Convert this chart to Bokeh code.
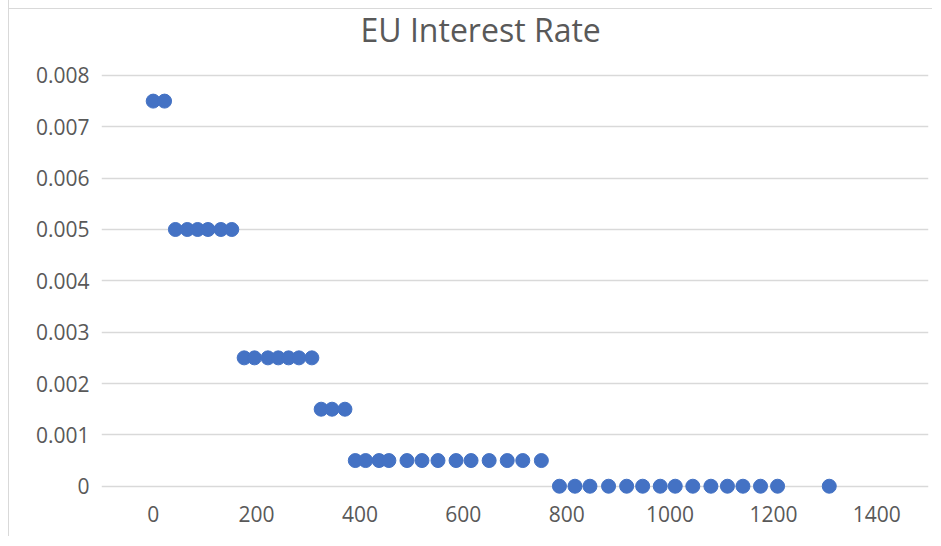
from bokeh.plotting import figure
from bokeh.models import Range1d, FixedTicker, ColumnDataSource
from bokeh.embed import file_html
from bokeh.resources import INLINE

# Data (x: index/day, y: interest rate)
x_rate_0075 = [0, 22]
x_rate_0050 = [43, 66, 86, 106, 131, 152]
x_rate_0025 = [176, 196, 222, 242, 262, 282, 307]
x_rate_0015 = [325, 346, 371]
x_rate_0005 = [391, 411, 437, 456, 491, 520, 551, 586, 615, 650, 685, 715, 751]
x_rate_0000 = [786, 816, 845, 881, 916, 947, 981, 1010, 1044, 1079, 1111, 1141, 1175, 1208, 1308]

rate_levels = [0.0075, 0.005, 0.0025, 0.0015, 0.0005, 0.0]
x_groups = [x_rate_0075, x_rate_0050, x_rate_0025, x_rate_0015, x_rate_0005, x_rate_0000]

y_ticks = [0, 0.001, 0.002, 0.003, 0.004, 0.005, 0.006, 0.007, 0.008]
y_tick_labels = ["0", "0.001", "0.002", "0.003", "0.004", "0.005", "0.006", "0.007", "0.008"]
x_ticks = [0, 200, 400, 600, 800, 1000, 1200, 1400]
x_tick_labels = ["0", "200", "400", "600", "800", "1000", "1200", "1400"]

xs, ys = [], []
for lvl, grp in zip(rate_levels, x_groups):
    for xv in grp:
        xs.append(xv)
        ys.append(lvl)
src = ColumnDataSource(dict(x=xs, y=ys))

FONT = "Open Sans"
GRAY = "#595959"

p = figure(width=924, height=538, output_backend="svg", toolbar_location=None,
           x_range=Range1d(-100, 1500), y_range=Range1d(-0.0002, 0.00833),
           min_border_left=92, min_border_right=5, min_border_top=0, min_border_bottom=40,
           title="EU Interest Rate")
p.styles = {"border-left": "1px solid #D9D9D9",
            "margin-left": "8px", "margin-top": "-2px",
            "background": "linear-gradient(#D9D9D9, #D9D9D9) 0 10px / 100% 1px no-repeat, white"}

p.title.text_font = FONT
p.title.text_font_size = "32px"
p.title.text_font_style = "normal"
p.title.text_color = GRAY
p.title.align = "left"
p.title.offset = 259
p.title.standoff = 15

p.outline_line_color = None
p.background_fill_color = "white"
p.border_fill_color = None

p.xgrid.grid_line_color = None
p.ygrid.grid_line_color = "#D9D9D9"
p.ygrid.grid_line_width = 1.3
p.ygrid.ticker = FixedTicker(ticks=y_ticks)

for ax in (p.xaxis[0], p.yaxis[0]):
    ax.axis_line_color = None
    ax.major_tick_line_color = None
    ax.minor_tick_line_color = None
    ax.major_tick_out = 0
    ax.major_tick_in = 0
    ax.major_label_text_font = FONT
    ax.major_label_text_font_size = "21px"
    ax.major_label_text_color = GRAY

p.yaxis[0].ticker = FixedTicker(ticks=y_ticks)
p.yaxis[0].major_label_overrides = {t: l for t, l in zip(y_ticks, y_tick_labels)}
p.yaxis[0].major_label_standoff = 12
p.xaxis[0].ticker = FixedTicker(ticks=x_ticks)
p.xaxis[0].major_label_overrides = {t: l for t, l in zip(x_ticks, x_tick_labels)}
p.xaxis[0].major_label_standoff = 9

p.scatter("x", "y", source=src, size=14, fill_color="#4472C4", line_color="#4472C4")

open("out.html", "w").write(file_html(p, INLINE))
